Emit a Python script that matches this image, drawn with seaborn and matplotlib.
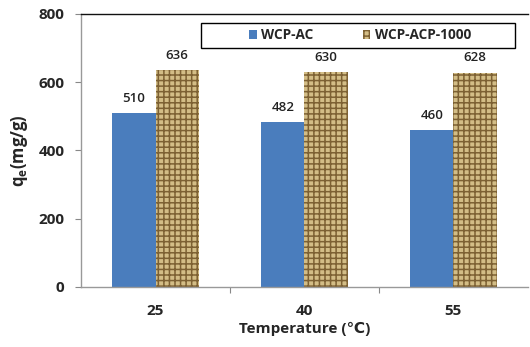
import matplotlib
matplotlib.use("Agg")
import matplotlib.pyplot as plt
from matplotlib.patches import Rectangle, Patch
import seaborn as sns
import pandas as pd

temperatures = ["25", "40", "55"]
series_names = ["WCP-AC", "WCP-ACP-1000"]
wcp_ac = [510, 482, 460]
wcp_acp = [636, 630, 628]
y_ticks = [0, 200, 400, 600, 800]

sns.set_theme(style="white")
plt.rcParams["font.family"] = ["Open Sans", "DejaVu Sans"]
plt.rcParams["hatch.linewidth"] = 1.1
plt.rcParams["mathtext.default"] = "regular"

df = pd.DataFrame({
    "Temperature": temperatures * 2,
    "q": wcp_ac + wcp_acp,
    "Series": [series_names[0]] * 3 + [series_names[1]] * 3,
})

blue = "#4a7dbd"
tan = "#d3bd86"
weave = "#7d6133"

fig = plt.figure(figsize=(5.30, 3.47), dpi=100)
ax = fig.add_axes([0.153, 0.173, 0.843, 0.787])
sns.barplot(data=df, x="Temperature", y="q", hue="Series", order=temperatures,
            hue_order=series_names, palette=[blue, tan], width=0.58,
            saturation=1, ax=ax, legend=False)

for bar in ax.containers[0]:
    bar.set_linewidth(0)
for bar in ax.containers[1]:
    bar.set_facecolor(tan)
    bar.set_edgecolor(weave)
    bar.set_hatch("+++")
    bar.set_linewidth(0)

for cont in ax.containers:
    ax.bar_label(cont, fmt="%d", padding=6, fontsize=9.5, color="#222222",
                 fontweight="semibold")

ax.set_xlim(-0.5, 2.5)
ax.set_ylim(0, 800)
ax.set_yticks(y_ticks, [str(v) for v in y_ticks], fontsize=11, fontweight="bold")
ax.tick_params(axis="y", which="major", length=4, width=0.8, color="#888888",
               direction="out", left=True, pad=8)
ax.set_xticks([0, 1, 2], temperatures, fontsize=11, fontweight="bold")
ax.tick_params(axis="x", which="major", length=0, pad=12)
ax.set_xticks([0.5, 1.5], minor=True)
ax.tick_params(axis="x", which="minor", length=4, width=0.8, color="#888888",
               direction="out", bottom=True)

ax.spines["right"].set_visible(False)
ax.spines["top"].set_color("#111111")
ax.spines["top"].set_linewidth(1.0)
for s in ["left", "bottom"]:
    ax.spines[s].set_color("#999999")
    ax.spines[s].set_linewidth(1.0)

ax.set_xlabel("Temperature (\u2103)", fontsize=11, fontweight="bold", labelpad=3)
ax.set_ylabel("q$_{e}$(mg/g)", fontsize=12, fontweight="bold", labelpad=6)

# legend box
ax.add_patch(Rectangle((0.268, 0.876), 0.703, 0.091, transform=ax.transAxes,
                       facecolor="white", edgecolor="black", linewidth=1.0,
                       zorder=5))
handles = [Patch(facecolor=blue, edgecolor=blue, linewidth=0),
           Patch(facecolor=tan, edgecolor=weave, hatch="+++", linewidth=0)]
leg = ax.legend(handles, series_names, loc="center left",
                bbox_to_anchor=(0.376, 0.9215), ncol=2, frameon=False,
                handlelength=0.55, handleheight=0.55,
                handletextpad=0.35, columnspacing=3.6, borderpad=0,
                borderaxespad=0, prop={"size": 9.8, "weight": "bold"})
leg.set_zorder(6)

fig.savefig("out.png", dpi=100)
